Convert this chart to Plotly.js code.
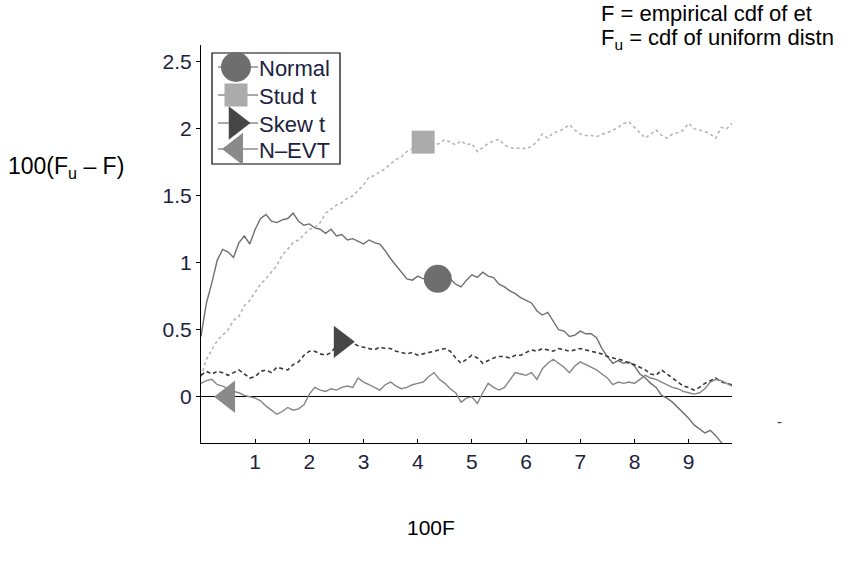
<!DOCTYPE html>
<html>
<head>
<meta charset="utf-8">
<script src="https://cdn.plot.ly/plotly-3.0.1.min.js"></script>
<style>html,body{margin:0;padding:0;background:#fff;}#chart{width:858px;height:564px;}</style>
</head>
<body>
<div id="chart"></div>
<script>
// 100F grid
const xF = [0.0,0.1,0.2,0.3,0.4,0.5,0.6,0.7,0.8,0.9,
  1.0,1.1,1.2,1.3,1.4,1.5,1.6,1.7,1.8,1.9,
  2.0,2.1,2.2,2.3,2.4,2.5,2.6,2.7,2.8,2.9,
  3.0,3.1,3.2,3.3,3.4,3.5,3.6,3.7,3.8,3.9,
  4.0,4.1,4.2,4.3,4.4,4.5,4.6,4.7,4.8,4.9,
  5.0,5.1,5.2,5.3,5.4,5.5,5.6,5.7,5.8,5.9,
  6.0,6.1,6.2,6.3,6.4,6.5,6.6,6.7,6.8,6.9,
  7.0,7.1,7.2,7.3,7.4,7.5,7.6,7.7,7.8,7.9,
  8.0,8.1,8.2,8.3,8.4,8.5,8.6,8.7,8.8,8.9,
  9.0,9.1,9.2,9.3,9.4,9.5,9.6,9.7,9.8];

const normal = [0.45,0.70,0.85,1.02,1.10,1.08,1.04,1.15,1.20,1.14,
  1.25,1.33,1.36,1.31,1.30,1.32,1.33,1.37,1.31,1.28,
  1.29,1.26,1.25,1.22,1.25,1.20,1.21,1.17,1.18,1.16,
  1.14,1.17,1.15,1.14,1.09,1.03,0.98,0.93,0.88,0.87,
  0.90,0.88,0.90,0.88,0.87,0.86,0.88,0.84,0.82,0.87,
  0.91,0.89,0.93,0.90,0.89,0.84,0.82,0.79,0.77,0.74,
  0.72,0.70,0.64,0.61,0.63,0.56,0.50,0.49,0.45,0.46,
  0.49,0.47,0.47,0.44,0.36,0.30,0.25,0.27,0.25,0.26,
  0.23,0.17,0.14,0.10,0.07,0.01,-0.01,-0.04,-0.08,-0.12,
  -0.16,-0.21,-0.24,-0.27,-0.25,-0.29,-0.34,-0.38,-0.42];

const studT = [0.15,0.28,0.35,0.42,0.46,0.50,0.57,0.60,0.68,0.72,
  0.78,0.84,0.88,0.93,0.98,1.06,1.10,1.15,1.17,1.21,
  1.25,1.26,1.30,1.37,1.40,1.43,1.45,1.48,1.50,1.54,
  1.58,1.64,1.65,1.68,1.70,1.74,1.77,1.79,1.83,1.85,
  1.88,1.91,1.90,1.88,1.89,1.92,1.90,1.88,1.91,1.88,
  1.89,1.83,1.86,1.89,1.91,1.92,1.88,1.86,1.85,1.86,
  1.85,1.87,1.90,1.96,1.93,1.97,1.98,2.00,2.03,1.99,
  1.96,1.95,1.95,1.94,1.96,1.97,1.99,2.01,2.04,2.05,
  2.01,1.97,1.93,1.96,1.99,1.95,1.93,1.96,1.97,1.99,
  2.04,2.00,1.99,1.98,1.96,1.93,2.01,2.00,2.04];

const skewT = [0.16,0.19,0.17,0.19,0.18,0.16,0.18,0.20,0.17,0.14,
  0.15,0.19,0.20,0.18,0.22,0.21,0.20,0.24,0.26,0.31,
  0.34,0.34,0.32,0.31,0.33,0.38,0.42,0.42,0.40,0.38,
  0.37,0.36,0.35,0.37,0.36,0.36,0.34,0.33,0.32,0.33,
  0.31,0.32,0.33,0.34,0.35,0.36,0.34,0.29,0.25,0.28,
  0.31,0.29,0.25,0.27,0.29,0.30,0.30,0.29,0.31,0.31,
  0.33,0.35,0.34,0.36,0.35,0.34,0.36,0.35,0.34,0.35,
  0.36,0.35,0.34,0.33,0.32,0.30,0.29,0.28,0.27,0.25,
  0.24,0.22,0.20,0.17,0.16,0.20,0.17,0.14,0.11,0.08,
  0.07,0.05,0.07,0.10,0.12,0.14,0.11,0.10,0.09];

const nEVT = [0.10,0.12,0.13,0.09,0.08,0.06,0.04,0.03,0.01,0.00,
  -0.01,-0.03,-0.07,-0.10,-0.13,-0.11,-0.08,-0.10,-0.09,-0.06,
  0.02,0.07,0.05,0.04,0.06,0.05,0.07,0.08,0.07,0.14,
  0.11,0.09,0.07,0.05,0.09,0.11,0.08,0.06,0.07,0.09,
  0.10,0.11,0.15,0.18,0.13,0.10,0.06,0.03,-0.04,-0.01,
  0.00,-0.05,0.03,0.10,0.07,0.05,0.07,0.13,0.18,0.17,
  0.16,0.18,0.13,0.21,0.25,0.28,0.25,0.22,0.18,0.23,
  0.26,0.24,0.22,0.20,0.17,0.14,0.09,0.11,0.10,0.11,
  0.10,0.13,0.16,0.14,0.13,0.11,0.09,0.07,0.06,0.04,
  0.03,0.02,0.03,0.06,0.11,0.13,0.12,0.10,0.08];

// series labels and marker positions
const seriesNames = ["Normal","Stud t","Skew t","N\u2013EVT"];
const markerX = [4.37, 4.10, 2.58, 0.50];
const markerY = [0.88, 1.90, 0.41, 0.00];
const yTickVals = [0, 0.5, 1, 1.5, 2, 2.5];
const xTickVals = [1,2,3,4,5,6,7,8,9];

const seriesY = [normal, studT, skewT, nEVT];

// styles
const lineColors = ["#6f6f6f","#b4b4b4","#3a3a3a","#858585"];
const markerColors = ["#6e6e6e","#ababab","#464646","#8a8a8a"];
const symbols = ["circle","square","triangle-right","triangle-left"];
const dashes = ["solid","3px,3px","4px,3px","solid"];
const widths = [1.4,1.6,1.6,1.4];
const msizes = [28,23,28,28];
const legendMsizes = [30,23,29,28];

// page geometry (px) for plot area and the hand-drawn legend box
const P = {l: 201, r: 732, t: 45, b: 443};
const LB = {x0: 212, x1: 340, y0: 53, y1: 164};
const legRowOffset = [14, 42, 70, 96];   // row centres inside box (px)
const legGlyph = {x0: 6, xm: 24, x1: 46, text: 45};
const fx = px => (px - P.l) / (P.r - P.l);
const fy = py => (P.b - py) / (P.b - P.t);

const traces = [];
for (let i = 0; i < 4; i++) {
  traces.push({
    x: xF, y: seriesY[i], type: "scatter", mode: "lines",
    line: {color: lineColors[i], width: widths[i], dash: dashes[i]},
    showlegend: false, hoverinfo: "skip"
  });
}
for (let i = 0; i < 4; i++) {
  traces.push({
    x: [markerX[i]], y: [markerY[i]], type: "scatter", mode: "markers",
    marker: {symbol: symbols[i], size: msizes[i], color: markerColors[i], line: {width: 0}},
    showlegend: false, cliponaxis: false, hoverinfo: "skip"
  });
}

const font = "Liberation Sans, Arial, sans-serif";
const tickColor = "#1c2240";

// legend glyphs drawn on an overlay axis measured in pixels inside the box
const legendAnnots = [];
for (let i = 0; i < 4; i++) {
  traces.push({
    x: [legGlyph.x0, legGlyph.x1], y: [legRowOffset[i], legRowOffset[i]],
    xaxis: "x2", yaxis: "y2", type: "scatter", mode: "lines",
    line: {color: "#555", width: 1}, showlegend: false, hoverinfo: "skip"
  });
  traces.push({
    x: [legGlyph.xm], y: [legRowOffset[i]],
    xaxis: "x2", yaxis: "y2", type: "scatter", mode: "markers",
    marker: {symbol: symbols[i], size: legendMsizes[i], color: markerColors[i], line: {width: 0}},
    showlegend: false, cliponaxis: false, hoverinfo: "skip"
  });
  legendAnnots.push({
    xref: "x2", yref: "y2", x: legGlyph.text, y: legRowOffset[i] + 1,
    xanchor: "left", yanchor: "middle", text: seriesNames[i], showarrow: false,
    font: {family: font, size: 22, color: tickColor}
  });
}

const layout = {
  width: 858, height: 564,
  margin: {l: P.l, r: 858 - P.r, t: P.t, b: 564 - P.b},
  paper_bgcolor: "#fff", plot_bgcolor: "rgba(0,0,0,0)",
  font: {family: font, size: 21, color: "#000"},
  showlegend: false,
  xaxis: {
    range: [0, 9.8], tickvals: xTickVals, ticks: "inside", ticklen: 4, tickcolor: "#000",
    showline: true, linecolor: "#000", linewidth: 1, showgrid: false, zeroline: false,
    tickfont: {family: font, size: 21, color: tickColor}
  },
  yaxis: {
    range: [-0.345, 2.625], tickvals: yTickVals, ticks: "outside", ticklen: 4, tickcolor: "#000",
    showline: true, linecolor: "#000", linewidth: 1, showgrid: false,
    zeroline: true, zerolinecolor: "#000", zerolinewidth: 1,
    tickfont: {family: font, size: 21, color: tickColor}
  },
  xaxis2: {
    domain: [fx(LB.x0), fx(LB.x1)], range: [0, LB.x1 - LB.x0], anchor: "y2",
    visible: false, fixedrange: true
  },
  yaxis2: {
    domain: [fy(LB.y1), fy(LB.y0)], range: [LB.y1 - LB.y0, 0], anchor: "x2",
    visible: false, fixedrange: true
  },
  shapes: [
    {type: "rect", xref: "paper", yref: "paper", layer: "below",
      x0: fx(LB.x0), x1: fx(LB.x1), y0: fy(LB.y1), y1: fy(LB.y0),
      fillcolor: "#fff", line: {color: "#000", width: 1.2}}
  ],
  annotations: legendAnnots.concat([
    {xref: "paper", yref: "paper", xanchor: "left", yanchor: "middle",
      x: fx(599), y: fy(13), text: "F = empirical cdf of et", showarrow: false,
      font: {family: font, size: 22, color: "#000"}},
    {xref: "paper", yref: "paper", xanchor: "left", yanchor: "middle",
      x: fx(599), y: fy(39), text: "F<sub>u</sub> = cdf of uniform distn", showarrow: false,
      font: {family: font, size: 22, color: "#000"}},
    {xref: "paper", yref: "paper", xanchor: "left", yanchor: "middle",
      x: fx(6), y: fy(167), text: "100(F<sub>u</sub> \u2013 F)", showarrow: false,
      font: {family: font, size: 23, color: "#000"}},
    {xref: "paper", yref: "paper", xanchor: "center", yanchor: "middle",
      x: fx(431), y: fy(527), text: "100F", showarrow: false,
      font: {family: font, size: 21, color: "#000"}},
    {xref: "paper", yref: "paper", xanchor: "center", yanchor: "middle",
      x: fx(779), y: fy(421), text: "-", showarrow: false,
      font: {family: font, size: 15, color: "#333"}}
  ])
};

Plotly.newPlot("chart", traces, layout, {displayModeBar: false, staticPlot: true});
</script>
</body>
</html>
